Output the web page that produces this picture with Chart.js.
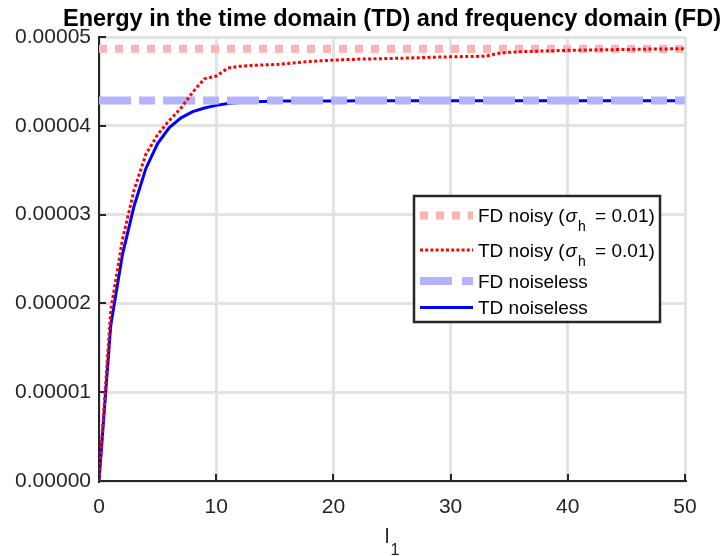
<!DOCTYPE html>
<html lang="en">
<head>
  <meta charset="UTF-8" />
  <title>Energy in the time domain (TD) and frequency domain (FD)</title>
  <script src="https://cdn.jsdelivr.net/npm/chart.js"></script>
  <style>
    body { margin: 0; background: #fff; }
    #wrap { width: 723px; height: 556px; }
  </style>
</head>
<body>
  <div id="wrap"><canvas id="energyChart" width="723" height="556"></canvas></div>

  <script>
    // l1 values along the x axis
    const lValues = [0, 1, 2, 3, 4, 5, 6, 7, 8, 9, 10, 11, 12, 13, 14, 15, 16, 17, 18, 19, 20,
      21, 22, 23, 24, 25, 26, 27, 28, 29, 30, 31, 32, 33, 34, 35, 36, 37, 38, 39, 40,
      41, 42, 43, 44, 45, 46, 47, 48, 49, 50];

    // energy in the time domain, noisy (sigma_h = 0.01)
    const tdNoisy = [0, 1.92e-5, 2.72e-5, 3.28e-5, 3.68e-5, 3.90e-5, 4.06e-5, 4.20e-5, 4.38e-5, 4.53e-5,
      4.56e-5, 4.65e-5, 4.67e-5, 4.68e-5, 4.685e-5, 4.69e-5, 4.70e-5, 4.712e-5, 4.724e-5, 4.733e-5,
      4.74e-5, 4.745e-5, 4.75e-5, 4.753e-5, 4.756e-5, 4.759e-5, 4.762e-5, 4.766e-5, 4.77e-5, 4.774e-5,
      4.777e-5, 4.779e-5, 4.781e-5, 4.784e-5, 4.815e-5, 4.828e-5, 4.834e-5, 4.839e-5, 4.843e-5, 4.847e-5,
      4.85e-5, 4.852e-5, 4.854e-5, 4.856e-5, 4.858e-5, 4.86e-5, 4.862e-5, 4.864e-5, 4.865e-5, 4.867e-5,
      4.868e-5];

    // energy in the time domain, noiseless
    const tdNoiseless = [0, 1.75e-5, 2.55e-5, 3.10e-5, 3.52e-5, 3.80e-5, 3.98e-5, 4.09e-5, 4.16e-5, 4.20e-5,
      4.23e-5, 4.25e-5, 4.262e-5, 4.27e-5, 4.275e-5, 4.278e-5, 4.279e-5, 4.28e-5, 4.28e-5, 4.28e-5,
      4.28e-5, 4.28e-5, 4.281e-5, 4.281e-5, 4.281e-5, 4.281e-5, 4.281e-5, 4.281e-5, 4.282e-5, 4.282e-5,
      4.282e-5, 4.282e-5, 4.282e-5, 4.282e-5, 4.282e-5, 4.282e-5, 4.282e-5, 4.282e-5, 4.282e-5, 4.282e-5,
      4.282e-5, 4.282e-5, 4.282e-5, 4.282e-5, 4.282e-5, 4.282e-5, 4.282e-5, 4.282e-5, 4.282e-5, 4.282e-5,
      4.282e-5];

    // frequency domain energies (constant over l1)
    const fdNoisy = 4.866e-5;
    const fdNoiseless = 4.284e-5;

    const xTicks = [0, 10, 20, 30, 40, 50];
    const yTicks = [0, 1e-5, 2e-5, 3e-5, 4e-5, 5e-5];

    const FONT = '"Liberation Sans", Arial, Helvetica, sans-serif';
    const AXIS_COLOR = '#262626';

    const toPoints = arr => lValues.map((l, i) => ({ x: l, y: arr[i] }));
    const flat = v => [{ x: lValues[0], y: v }, { x: lValues[lValues.length - 1], y: v }];

    const legendItems = [
      { main: 'FD noisy (', sub: true, color: 'rgb(255,179,179)', width: 8, dash: [8, 8] },
      { main: 'TD noisy (', sub: true, color: 'rgb(255,0,0)', width: 3, dash: [3, 2.2] },
      { main: 'FD noiseless', sub: false, color: 'rgb(179,179,255)', width: 8, dash: [32, 10] },
      { main: 'TD noiseless', sub: false, color: 'rgb(0,0,255)', width: 3, dash: [] }
    ];

    // title, x label, inward ticks and the boxed legend
    const decorations = {
      id: 'decorations',
      beforeDatasetsDraw(chart) {
        const { ctx, chartArea, scales } = chart;
        ctx.save();
        ctx.strokeStyle = AXIS_COLOR;
        ctx.lineWidth = 2;
        xTicks.forEach(v => {
          const x = Math.round(scales.x.getPixelForValue(v));
          ctx.beginPath();
          ctx.moveTo(x, chartArea.bottom);
          ctx.lineTo(x, chartArea.bottom - 7);
          ctx.stroke();
        });
        yTicks.forEach(v => {
          const y = Math.round(scales.y.getPixelForValue(v));
          ctx.beginPath();
          ctx.moveTo(chartArea.left, y);
          ctx.lineTo(chartArea.left + 7, y);
          ctx.stroke();
        });
        ctx.restore();
      },
      afterDraw(chart) {
        const { ctx, chartArea } = chart;
        const cx = (chartArea.left + chartArea.right) / 2;
        ctx.save();

        // title
        ctx.fillStyle = '#000';
        ctx.font = 'bold 23.5px ' + FONT;
        ctx.textAlign = 'center';
        ctx.textBaseline = 'alphabetic';
        ctx.fillText('Energy in the time domain (TD) and frequency domain (FD)', cx, 26);

        // x axis label l with subscript 1
        ctx.textAlign = 'left';
        ctx.fillStyle = AXIS_COLOR;
        ctx.font = '21px ' + FONT;
        const lw = ctx.measureText('l').width;
        ctx.font = '16px ' + FONT;
        const sw = ctx.measureText('1').width;
        const lx = cx - (lw + sw + 1) / 2;
        ctx.font = '21px ' + FONT;
        ctx.fillText('l', lx, 543);
        ctx.font = '16px ' + FONT;
        ctx.fillText('1', lx + lw + 1, 555);

        // legend
        const bx = 414, by = 196, bw = 246, bh = 126;
        ctx.fillStyle = '#fff';
        ctx.fillRect(bx, by, bw, bh);
        ctx.strokeStyle = AXIS_COLOR;
        ctx.lineWidth = 2.5;
        ctx.strokeRect(bx, by, bw, bh);

        const baselines = [222, 256.5, 287.5, 314];
        legendItems.forEach((item, i) => {
          const base = baselines[i];
          const ly = base - 6.5;
          ctx.save();
          ctx.beginPath();
          ctx.rect(bx + 4, by + 2, bw - 8, bh - 4);
          ctx.clip();
          ctx.strokeStyle = item.color;
          ctx.lineWidth = item.width;
          ctx.lineCap = 'butt';
          ctx.setLineDash(item.dash);
          ctx.beginPath();
          ctx.moveTo(420, ly);
          ctx.lineTo(473, ly);
          ctx.stroke();
          ctx.restore();

          ctx.fillStyle = '#000';
          ctx.font = '19px ' + FONT;
          let tx = 478;
          ctx.fillText(item.main, tx, base);
          if (item.sub) {
            tx += ctx.measureText(item.main).width + 1;
            ctx.font = 'italic 19px ' + FONT;
            ctx.fillText('σ', tx, base);
            tx += ctx.measureText('σ').width + 1;
            ctx.font = '14px ' + FONT;
            ctx.fillText('h', tx, base + 9);
            tx += ctx.measureText('h').width;
            ctx.font = '19px ' + FONT;
            ctx.fillText(' = 0.01)', tx + 4, base);
          }
        });
        ctx.restore();
      }
    };

    const ctx = document.getElementById('energyChart').getContext('2d');
    new Chart(ctx, {
      type: 'line',
      data: {
        datasets: [
          {
            label: 'FD noisy',
            data: flat(fdNoisy),
            borderColor: 'rgb(255,179,179)',
            borderWidth: 8,
            borderDash: [8, 8],
            order: 2
          },
          {
            label: 'TD noisy',
            data: toPoints(tdNoisy),
            borderColor: 'rgb(255,0,0)',
            borderWidth: 3,
            borderDash: [3, 2.4],
            order: 1
          },
          {
            label: 'FD noiseless',
            data: flat(fdNoiseless),
            borderColor: 'rgb(179,179,255)',
            borderWidth: 8,
            borderDash: [32, 8, 16, 8],
            order: 3
          },
          {
            label: 'TD noiseless',
            data: toPoints(tdNoiseless),
            borderColor: 'rgb(0,0,255)',
            borderWidth: 3,
            order: 4
          }
        ]
      },
      options: {
        responsive: false,
        animation: false,
        parsing: false,
        layout: { padding: { top: 37, right: 38, left: 0, bottom: 0 } },
        elements: {
          point: { radius: 0 },
          line: { tension: 0, fill: false, borderCapStyle: 'butt' }
        },
        plugins: {
          legend: { display: false },
          title: { display: false },
          tooltip: { enabled: false }
        },
        scales: {
          x: {
            type: 'linear',
            min: 0,
            max: 50,
            afterFit: s => { s.height = 75; },
            afterBuildTicks: s => { s.ticks = xTicks.map(v => ({ value: v })); },
            grid: { color: '#e3e3e3', lineWidth: 3, drawTicks: false },
            border: { color: AXIS_COLOR, width: 2 },
            ticks: {
              color: AXIS_COLOR,
              padding: 14,
              maxRotation: 0,
              font: { family: FONT, size: 21 }
            }
          },
          y: {
            type: 'linear',
            min: 0,
            max: 5e-5,
            afterFit: s => { s.width = 99; },
            afterBuildTicks: s => { s.ticks = yTicks.map(v => ({ value: v })); },
            grid: { color: '#e3e3e3', lineWidth: 3, drawTicks: false },
            border: { color: AXIS_COLOR, width: 2 },
            ticks: {
              color: AXIS_COLOR,
              padding: 8,
              font: { family: FONT, size: 21 },
              callback: v => v.toFixed(5)
            }
          }
        }
      },
      plugins: [decorations]
    });
  </script>
</body>
</html>
